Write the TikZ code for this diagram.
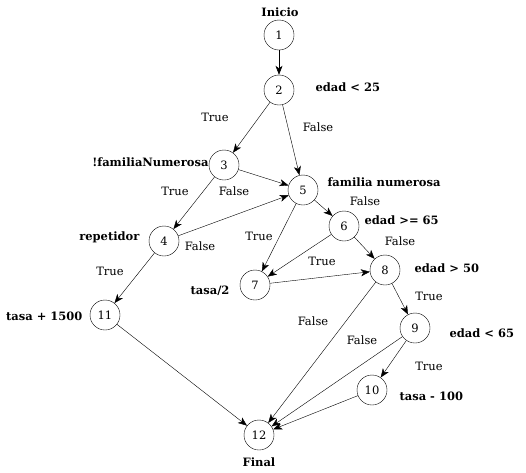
\documentclass[tikz,border=0pt]{standalone}
\usepackage{fontspec}
\setmainfont{DejaVu Serif}
\usepackage{tikz}
\usetikzlibrary{arrows.meta}

\begin{document}
\begin{tikzpicture}[>={Stealth[length=9pt,width=7pt,inset=2.5pt]}, x=1pt, y=-1pt,
    every node/.style={font=\fontsize{11.5}{13}\selectfont},
    state/.style={draw, circle, minimum size=30pt, inner sep=0pt},
    cond/.style={font=\fontsize{11.5}{13}\selectfont\bfseries},
    lbl/.style={inner sep=0pt}
  ]
  \useasboundingbox (0,0) rectangle (526,472);

  % nodos del grafo
  \node[state] (n1) at (279,35) {1};
  \node[state] (n2) at (279,90) {2};
  \node[state] (n3) at (224,165) {3};
  \node[state] (n4) at (164,241) {4};
  \node[state] (n5) at (303,190) {5};
  \node[state] (n6) at (344,226) {6};
  \node[state] (n7) at (255,285) {7};
  \node[state] (n8) at (385,270) {8};
  \node[state] (n9) at (415,328) {9};
  \node[state] (n10) at (372,390) {10};
  \node[state] (n11) at (105,315) {11};
  \node[state] (n12) at (259,435) {12};

  % condiciones y sentencias
  \node[cond] (inicio) at (280,12) {Inicio};
  \node[cond, anchor=west] at (312,87) {edad < 25};
  \node[cond, anchor=east] at (212,162) {!familiaNumerosa};
  \node[cond, anchor=west] at (324,182) {familia numerosa};
  \node[cond, anchor=west] at (361,220) {edad >= 65};
  \node[cond, anchor=east] at (143,237) {repetidor};
  \node[cond, anchor=east] at (233,291) {tasa/2};
  \node[cond, anchor=west] at (411,268) {edad > 50};
  \node[cond, anchor=west] at (446,333) {edad < 65};
  \node[cond, anchor=east] at (86,316) {tasa + 1500};
  \node[cond, anchor=west] at (396,396) {tasa - 100};
  \node[cond] (final) at (259,462) {Final};

  \path[->] (n1) edge[semithick] (n2)
            (n2) edge (n3)
            (n2) edge (n5)
            (n3) edge (n5)
            (n3) edge (n4)
            (n4) edge (n5)
            (n5) edge (n6)
            (n5) edge (n7)
            (n6) edge (n7)
            (n6) edge (n8)
            (n7) edge (n8)
            (n8) edge (n9)
            (n8) edge (n12)
            (n9) edge (n10)
            (n9) edge (n12)
            (n4) edge (n11)
            (n11) edge (n12)
            (n10) edge (n12);

  % etiquetas de las aristas
  \node[lbl] at (215,117) {True};
  \node[lbl] at (318,127) {False};
  \node[lbl] at (175,191) {True};
  \node[lbl] at (234,191) {False};
  \node[lbl] at (200,246) {False};
  \node[lbl] at (259,236) {True};
  \node[lbl] at (365,201) {False};
  \node[lbl] at (400,241) {False};
  \node[lbl] at (322,261) {True};
  \node[lbl] at (110,271) {True};
  \node[lbl] at (429,296) {True};
  \node[lbl] at (313,321) {False};
  \node[lbl] at (362,340) {False};
  \node[lbl] at (429,366) {True};
\end{tikzpicture}
\end{document}
